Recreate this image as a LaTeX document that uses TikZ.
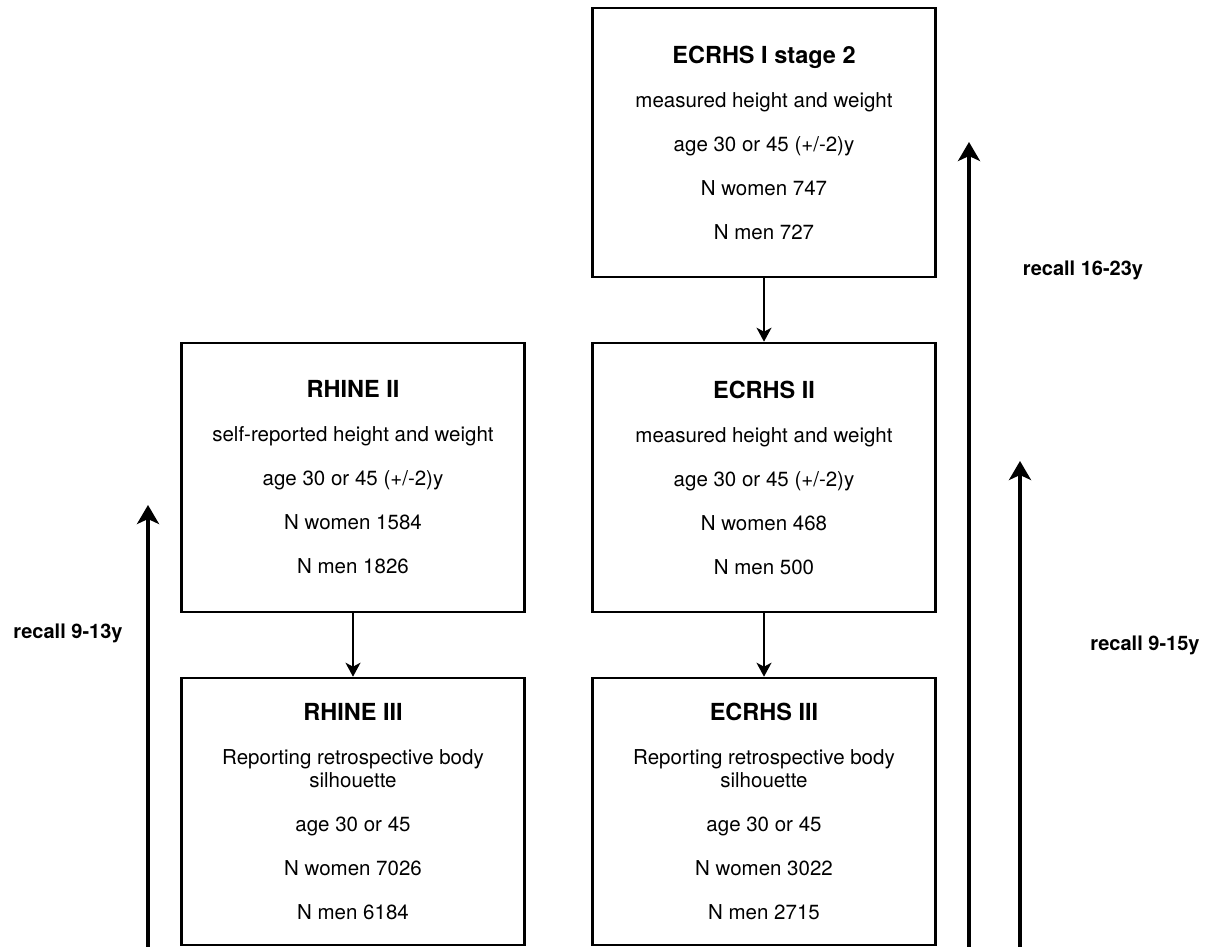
\documentclass[tikz,border=0pt]{standalone}
\usepackage{fontspec}
\setmainfont{TeX Gyre Heros}
\usetikzlibrary{arrows.meta}
\tikzset{
  stagebox/.style={draw=black, line width=2.6pt, fill=white, align=center,
    minimum width=343pt, inner sep=0pt,
    font=\fontsize{20.5}{23.5}\selectfont},
  link/.style={line width=2pt, -{Stealth[length=14pt,width=15pt,inset=4pt]}},
  recall/.style={line width=4.5pt, -{Stealth[length=19pt,width=22pt,inset=5pt]}},
  recalllabel/.style={font=\fontsize{20}{24}\selectfont\bfseries, inner sep=0pt},
}
\newcommand{\ttl}[1]{{\fontsize{23.5}{27}\selectfont\bfseries #1}}
\begin{document}
\begin{tikzpicture}[x=1pt,y=-1pt]
\useasboundingbox (0,0) rectangle (1218,947);
\fill[white] (0,0) rectangle (1218,947);

\node[stagebox, minimum height=269pt] (e1) at (764,142.5) {\ttl{ECRHS I stage 2}\\[20.5pt]
  measured height and weight\\[20.5pt]
  age 30 or 45 (+/-2)y\\[20.5pt]
  N women 747\\[20.5pt]
  N men 727};

\node[stagebox, minimum height=269pt] (r2) at (353,477.5) {\ttl{RHINE II}\\[20.5pt]
  self-reported height and weight\\[20.5pt]
  age 30 or 45 (+/-2)y\\[20.5pt]
  N women 1584\\[20.5pt]
  N men 1826};

\node[stagebox, minimum height=269pt] (e2) at (764,477.5) {\ttl{ECRHS II}\\[20.5pt]
  measured height and weight\\[20.5pt]
  age 30 or 45 (+/-2)y\\[20.5pt]
  N women 468\\[20.5pt]
  N men 500};

\node[stagebox, minimum height=267pt] (r3) at (353,811.5) {\ttl{RHINE III}\\[20.5pt]
  Reporting retrospective body\\
  silhouette\\[20.5pt]
  age 30 or 45\\[20.5pt]
  N women 7026\\[20.5pt]
  N men 6184};

\node[stagebox, minimum height=267pt] (e3) at (764,811.5) {\ttl{ECRHS III}\\[20.5pt]
  Reporting retrospective body\\
  silhouette\\[20.5pt]
  age 30 or 45\\[20.5pt]
  N women 3022\\[20.5pt]
  N men 2715};

\draw[link] (e1) -- (e2);
\draw[link] (r2) -- (r3);
\draw[link] (e2) -- (e3);

\coordinate (la) at (148,947);
\coordinate (lb) at (148,505);
\coordinate (ma) at (969,947);
\coordinate (mb) at (969,142);
\coordinate (na) at (1020,947);
\coordinate (nb) at (1020,461);

\draw[recall] (la) -- (lb);
\draw[recall] (ma) -- (mb);
\draw[recall] (na) -- (nb);

\node[recalllabel] (l1) at (68,633) {recall 9-13y};
\node[recalllabel] (l2) at (1083,270) {recall 16-23y};
\node[recalllabel] (l3) at (1145,645) {recall 9-15y};
\end{tikzpicture}
\end{document}
